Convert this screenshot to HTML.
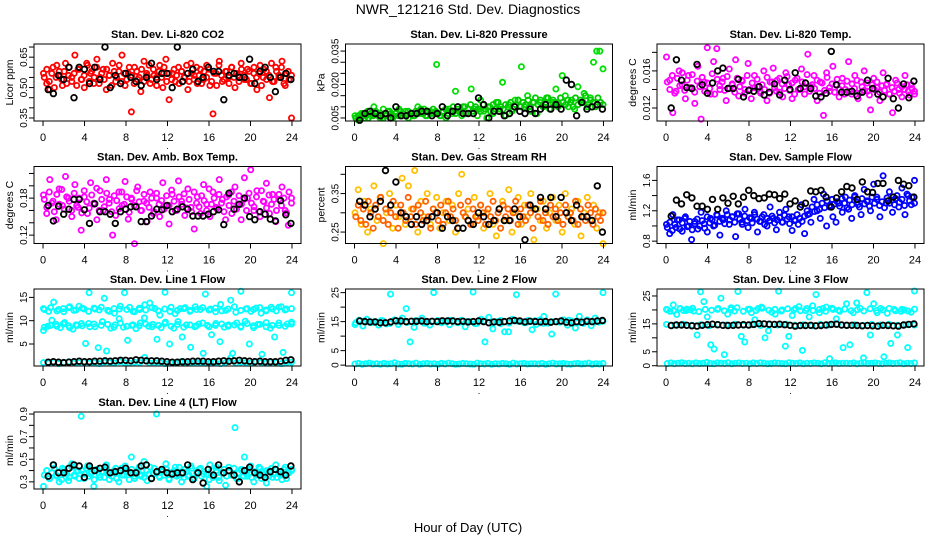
<!DOCTYPE html>
<html><head><meta charset="utf-8"><title>NWR_121216 Std. Dev. Diagnostics</title>
<style>
html,body{margin:0;padding:0;background:#fff;}
svg{display:block;font-family:"Liberation Sans",sans-serif;}
</style></head>
<body>
<svg id="chart" width="936" height="540" viewBox="0 0 936 540" xmlns="http://www.w3.org/2000/svg">
<rect x="0" y="0" width="936" height="540" fill="#fff"/>
<text x="468" y="14" text-anchor="middle" font-size="14">NWR_121216  Std. Dev. Diagnostics</text>
<text x="468" y="532" text-anchor="middle" font-size="13">Hour of Day (UTC)</text>
<g id="panels"></g>
</svg>
<script>
// x-axis tick labels (hours)
const xTicks=[0,4,8,12,16,20,24];
// Panel 1: CO2
const p1c=[0.57,0.52,0.49,0.60,0.55,0.58,0.51,0.62,0.56,0.53,0.66,0.59,0.54,0.50,0.61,0.57,0.52,0.64,0.55,0.59,0.49,0.56,0.62,0.53,0.58,0.66,0.51,0.57,0.38,0.60,0.54,0.48,0.63,0.56,0.52,0.59,0.55,0.61,0.50,0.64,0.44,0.57,0.53,0.60,0.58,0.55,0.49,0.62,0.56,0.52,0.59,0.54,0.61,0.51,0.37,0.57,0.63,0.53,0.58,0.55,0.60,0.50,0.56,0.62,0.54,0.59,0.52,0.57,0.49,0.61,0.55,0.58,0.45,0.53,0.60,0.56,0.63,0.51,0.58,0.35];
const p1d=[0.55,0.59,0.53,0.57,0.50,0.61,0.56,0.54,0.58,0.52,0.60,0.55,0.57,0.51,0.59,0.54,0.56,0.62,0.53,0.58,0.55,0.60,0.52,0.57,0.54,0.59,0.56,0.51,0.58,0.55,0.61,0.53,0.57,0.54,0.60,0.56,0.52,0.58,0.55,0.59,0.53,0.57,0.61,0.54,0.56,0.51,0.58,0.55,0.60,0.53,0.57,0.54,0.59,0.56,0.52,0.58,0.55,0.61,0.53,0.57,0.54,0.60,0.56,0.52,0.58,0.55,0.59,0.53,0.57,0.51,0.61,0.56,0.54,0.58,0.52,0.60,0.55,0.57,0.53,0.59,0.56,0.54,0.58,0.52,0.60,0.55,0.57,0.51,0.59,0.54,0.56,0.62,0.53,0.58,0.55,0.60,0.52,0.57,0.54,0.56];
const p1k=[0.49,0.47,0.56,0.54,0.60,0.45,0.60,0.59,0.52,0.60,0.54,0.70,0.50,0.56,0.52,0.57,0.55,0.53,0.51,0.55,0.62,0.54,0.57,0.57,0.50,0.70,0.53,0.57,0.59,0.53,0.55,0.60,0.58,0.58,0.44,0.56,0.57,0.55,0.55,0.64,0.52,0.58,0.60,0.55,0.48,0.55,0.57,0.54];
const p1Ticks=[0.35,0.40,0.45,0.50,0.55,0.60,0.65,0.70];
const p1Labels=[0.35,0.50,0.65];
// Panel 2: Pressure
const p2c=[0.006,0.004,0.007,0.005,0.008,0.006,0.010,0.007,0.005,0.009,0.006,0.008,0.005,0.007,0.009,0.006,0.008,0.005,0.007,0.006,0.010,0.007,0.009,0.006,0.008,0.007,0.029,0.006,0.008,0.005,0.009,0.007,0.017,0.008,0.006,0.010,0.007,0.018,0.009,0.006,0.013,0.008,0.005,0.010,0.007,0.012,0.009,0.021,0.006,0.011,0.008,0.013,0.013,0.028,0.010,0.015,0.008,0.012,0.007,0.012,0.010,0.014,0.009,0.012,0.018,0.011,0.024,0.015,0.010,0.013,0.009,0.019,0.012,0.016,0.010,0.014,0.030,0.035,0.035,0.027];
const p2d=[0.005,0.006,0.005,0.007,0.006,0.005,0.007,0.006,0.008,0.006,0.007,0.005,0.006,0.008,0.007,0.006,0.007,0.006,0.008,0.007,0.006,0.008,0.007,0.006,0.008,0.007,0.009,0.007,0.006,0.008,0.007,0.009,0.008,0.007,0.006,0.008,0.009,0.007,0.008,0.010,0.007,0.009,0.008,0.010,0.007,0.009,0.011,0.008,0.010,0.009,0.008,0.011,0.009,0.010,0.008,0.011,0.009,0.012,0.010,0.009,0.011,0.010,0.012,0.009,0.011,0.013,0.010,0.012,0.011,0.013,0.010,0.012,0.014,0.011,0.013,0.010,0.012,0.014,0.011,0.013,0.012,0.010,0.014,0.012,0.011,0.013,0.012,0.010,0.014,0.011,0.013,0.012,0.015,0.011,0.013,0.012,0.010,0.014,0.012,0.011];
const p2k=[0.004,0.007,0.008,0.007,0.006,0.007,0.005,0.010,0.006,0.006,0.007,0.007,0.008,0.008,0.006,0.007,0.010,0.006,0.008,0.010,0.007,0.007,0.007,0.014,0.011,0.005,0.008,0.008,0.006,0.007,0.010,0.008,0.007,0.009,0.007,0.009,0.011,0.009,0.011,0.009,0.022,0.020,0.006,0.012,0.009,0.010,0.011,0.009];
const p2Ticks=[0.005,0.010,0.015,0.020,0.025,0.030,0.035];
const p2Labels=[0.005,0.020,0.035];
// Panel 3: Li-820 Temp
const p3c=[0.0175,0.0150,0.0115,0.0138,0.0160,0.0145,0.0130,0.0155,0.0142,0.0125,0.0165,0.0108,0.0148,0.0185,0.0135,0.0170,0.0184,0.0140,0.0152,0.0128,0.0162,0.0145,0.0172,0.0133,0.0150,0.0140,0.0168,0.0130,0.0155,0.0143,0.0136,0.0160,0.0128,0.0148,0.0163,0.0138,0.0152,0.0132,0.0158,0.0145,0.0130,0.0150,0.0140,0.0162,0.0135,0.0178,0.0143,0.0155,0.0128,0.0148,0.0112,0.0158,0.0138,0.0165,0.0145,0.0132,0.0152,0.0140,0.0170,0.0135,0.0155,0.0130,0.0148,0.0160,0.0138,0.0118,0.0152,0.0142,0.0128,0.0158,0.0145,0.0135,0.0115,0.0150,0.0140,0.0132,0.0155,0.0138,0.0145,0.0135];
const p3d=[0.0148,0.0140,0.0155,0.0136,0.0152,0.0144,0.0158,0.0139,0.0150,0.0142,0.0156,0.0137,0.0149,0.0143,0.0153,0.0138,0.0147,0.0141,0.0157,0.0135,0.0151,0.0144,0.0148,0.0139,0.0154,0.0141,0.0146,0.0137,0.0152,0.0143,0.0149,0.0136,0.0155,0.0140,0.0147,0.0142,0.0151,0.0138,0.0145,0.0140,0.0153,0.0136,0.0148,0.0142,0.0150,0.0137,0.0146,0.0141,0.0154,0.0139,0.0147,0.0135,0.0152,0.0140,0.0148,0.0143,0.0156,0.0138,0.0145,0.0141,0.0150,0.0136,0.0147,0.0139,0.0153,0.0142,0.0146,0.0137,0.0151,0.0140,0.0144,0.0135,0.0149,0.0138,0.0146,0.0141,0.0150,0.0136,0.0143,0.0139,0.0147,0.0134,0.0145,0.0140,0.0148,0.0137,0.0144,0.0139,0.0146,0.0135,0.0142,0.0138,0.0147,0.0136,0.0143,0.0140,0.0145,0.0134,0.0141,0.0138];
const p3k=[0.0120,0.0172,0.0150,0.0142,0.0141,0.0167,0.0145,0.0136,0.0147,0.0160,0.0163,0.0141,0.0141,0.0151,0.0132,0.0139,0.0138,0.0143,0.0134,0.0137,0.0146,0.0134,0.0150,0.0140,0.0158,0.0141,0.0147,0.0141,0.0133,0.0132,0.0136,0.0181,0.0145,0.0137,0.0137,0.0138,0.0133,0.0137,0.0150,0.0141,0.0135,0.0132,0.0152,0.0130,0.0120,0.0146,0.0131,0.0149];
const p3Ticks=[0.012,0.014,0.016,0.018];
const p3Labels=[0.012,0.016];
// Panel 4: Amb. Box Temp
const p4c=[0.185,0.155,0.210,0.175,0.145,0.195,0.168,0.215,0.180,0.150,0.202,0.165,0.128,0.182,0.155,0.205,0.172,0.145,0.192,0.160,0.210,0.178,0.120,0.152,0.190,0.168,0.207,0.146,0.180,0.106,0.198,0.160,0.175,0.142,0.190,0.155,0.180,0.150,0.205,0.168,0.138,0.186,0.160,0.208,0.175,0.152,0.195,0.165,0.130,0.182,0.155,0.202,0.170,0.150,0.190,0.165,0.210,0.178,0.145,0.185,0.155,0.198,0.170,0.145,0.213,0.180,0.226,0.160,0.192,0.150,0.175,0.204,0.155,0.186,0.142,0.178,0.198,0.160,0.136,0.180];
const p4d=[0.178,0.165,0.190,0.172,0.158,0.186,0.170,0.194,0.162,0.182,0.175,0.160,0.188,0.168,0.180,0.156,0.192,0.174,0.164,0.185,0.170,0.196,0.160,0.178,0.166,0.188,0.172,0.158,0.184,0.176,0.163,0.190,0.170,0.182,0.157,0.178,0.168,0.192,0.174,0.160,0.186,0.172,0.165,0.180,0.158,0.188,0.170,0.176,0.162,0.184,0.168,0.193,0.175,0.160,0.182,0.170,0.187,0.164,0.178,0.158,0.190,0.172,0.166,0.184,0.176,0.160,0.195,0.170,0.180,0.163,0.186,0.172,0.158,0.182,0.168,0.190,0.175,0.162,0.184,0.170,0.178,0.160,0.188,0.172,0.166,0.182,0.158,0.192,0.174,0.164,0.185,0.170,0.178,0.160,0.186,0.168,0.180,0.156,0.190,0.172];
const p4k=[0.168,0.143,0.167,0.154,0.162,0.178,0.178,0.161,0.139,0.171,0.158,0.158,0.154,0.139,0.158,0.162,0.166,0.166,0.142,0.142,0.151,0.162,0.161,0.168,0.158,0.162,0.166,0.162,0.151,0.151,0.151,0.154,0.158,0.161,0.137,0.188,0.162,0.170,0.180,0.150,0.145,0.158,0.154,0.146,0.143,0.176,0.153,0.139];
const p4Ticks=[0.12,0.14,0.16,0.18,0.20,0.22];
const p4Labels=[0.12,0.18];
// Panel 5: Gas Stream RH
const p5c=[0.30,0.36,0.27,0.33,0.25,0.31,0.37,0.28,0.34,0.22,0.30,0.35,0.26,0.32,0.29,0.39,0.27,0.37,0.31,0.41,0.25,0.33,0.29,0.35,0.27,0.31,0.34,0.26,0.30,0.33,0.28,0.32,0.25,0.35,0.40,0.29,0.31,0.27,0.34,0.29,0.32,0.26,0.30,0.35,0.27,0.24,0.31,0.33,0.28,0.36,0.25,0.30,0.34,0.27,0.32,0.29,0.35,0.23,0.31,0.28,0.33,0.26,0.30,0.34,0.28,0.32,0.25,0.35,0.29,0.31,0.27,0.33,0.24,0.30,0.34,0.28,0.32,0.26,0.30,0.22];
const p5d=[0.29,0.32,0.28,0.31,0.27,0.33,0.30,0.26,0.32,0.29,0.34,0.28,0.31,0.27,0.30,0.33,0.29,0.26,0.32,0.30,0.28,0.34,0.29,0.31,0.27,0.32,0.30,0.28,0.33,0.29,0.26,0.31,0.30,0.28,0.32,0.27,0.30,0.33,0.29,0.31,0.28,0.26,0.32,0.30,0.29,0.33,0.27,0.31,0.29,0.28,0.32,0.30,0.27,0.31,0.29,0.33,0.28,0.30,0.26,0.32,0.29,0.31,0.28,0.30,0.33,0.27,0.31,0.29,0.28,0.32,0.30,0.26,0.31,0.29,0.33,0.28,0.30,0.27,0.32,0.29,0.31,0.28,0.30,0.27,0.32,0.29,0.30,0.28,0.33,0.27,0.31,0.29,0.28,0.32,0.30,0.27,0.31,0.29,0.28,0.30];
const p5k=[0.33,0.32,0.29,0.31,0.33,0.41,0.32,0.38,0.30,0.29,0.27,0.29,0.27,0.28,0.29,0.30,0.26,0.29,0.28,0.26,0.26,0.28,0.27,0.30,0.29,0.27,0.28,0.31,0.28,0.28,0.31,0.29,0.23,0.32,0.31,0.34,0.31,0.34,0.29,0.34,0.30,0.28,0.32,0.29,0.29,0.28,0.37,0.25];
const p5Ticks=[0.25,0.30,0.35,0.40];
const p5Labels=[0.25,0.35];
// Panel 6: Sample Flow
const p6c=[1.02,0.90,1.15,0.98,1.08,0.93,1.12,1.00,0.82,1.06,0.96,1.18,1.03,0.92,1.10,1.00,1.15,0.88,1.08,1.20,1.02,1.12,0.86,1.16,1.05,1.22,0.98,1.10,1.18,0.92,1.06,1.15,1.00,1.25,1.10,0.95,1.18,1.05,1.22,1.12,0.94,1.08,1.02,1.28,0.90,1.15,1.05,1.35,1.20,1.10,1.42,1.00,1.25,1.12,1.05,1.30,1.18,1.38,1.22,1.10,1.40,1.28,1.15,1.48,1.32,1.20,1.55,1.38,1.12,1.66,1.30,1.45,1.18,1.36,1.25,1.50,1.15,1.40,1.28,1.60];
const p6d=[0.98,1.05,0.94,1.02,1.08,0.96,1.04,1.10,0.99,1.06,0.95,1.03,1.09,1.00,1.07,0.97,1.12,1.04,1.08,1.01,1.14,1.06,1.10,1.03,1.15,1.08,1.12,1.05,1.16,1.09,1.02,1.13,1.07,1.11,1.04,1.15,1.09,1.06,1.12,1.02,1.10,1.07,1.13,1.04,1.08,1.11,1.05,1.14,1.09,1.03,1.12,1.07,1.15,1.10,1.06,1.13,1.20,1.16,1.25,1.19,1.28,1.22,1.30,1.24,1.33,1.27,1.35,1.29,1.32,1.26,1.36,1.30,1.24,1.34,1.28,1.38,1.31,1.25,1.36,1.29,1.33,1.26,1.38,1.30,1.35,1.27,1.32,1.24,1.37,1.30,1.34,1.28,1.40,1.31,1.35,1.27,1.42,1.33,1.38,1.30];
const p6k=[1.13,1.34,1.29,1.41,1.37,1.26,1.26,1.22,1.35,1.22,1.37,1.30,1.39,1.29,1.38,1.47,1.40,1.36,1.37,1.42,1.41,1.36,1.42,1.29,1.33,1.25,1.30,1.46,1.45,1.47,1.38,1.25,1.37,1.45,1.52,1.50,1.35,1.58,1.45,1.44,1.56,1.56,1.33,1.38,1.60,1.55,1.53,1.38];
const p6Ticks=[0.8,1.0,1.2,1.4,1.6];
const p6Labels=[0.8,1.2,1.6];
// Panel 7: Line 1 Flow
const p7a=[12.6,12.0,14.0,12.4,11.9,12.8,12.2,13.1,12.5,16.0,12.7,12.3,14.8,12.0,11.6,12.5,16.0,12.9,11.9,12.4,13.4,13.8,12.6,11.2,16.1,12.0,11.5,12.6,12.8,12.2,13.0,12.4,15.7,12.5,11.9,13.5,12.2,14.4,11.8,16.3,12.5,12.0,12.7,11.6,12.3,12.9,12.1,13.0,12.5,16.0];
const p7a2=[12.4,12.8,12.1,12.6,13.0,12.3,12.7,12.0,12.5,12.9,12.2,12.6,13.1,12.4,12.0,12.7,12.3,12.8,12.1,12.5,12.9,12.2,12.6,12.0,12.4,12.8,12.3,12.7,12.1,12.5,13.0,12.2,12.6,12.4,12.8,12.1,12.5,12.9,12.3,12.6];
const p7b=[7.9,8.8,10.1,9.2,8.5,9.6,8.9,8.2,9.0,9.4,5.1,8.7,9.3,4.2,9.8,3.5,8.4,9.1,10.4,8.6,5.8,9.0,8.3,9.5,10.6,8.8,9.2,6.0,8.5,9.7,5.0,8.4,9.8,6.5,9.1,4.3,8.7,9.3,3.0,9.0,7.0,9.4,5.5,8.6,9.1,3.0,9.5,8.8,9.9,5.0,8.5,9.2,2.8,9.6,8.4,6.5,9.0,3.2,9.3,9.7];
const p7b2=[8.6,9.0,8.8,9.3,8.5,9.1,8.9,9.4,8.7,9.0,9.2,8.6,9.5,8.8,9.1,8.9,9.3,8.7,9.0,9.4,8.8,9.2,8.6,9.1,8.9,9.5,8.7,9.0,9.3,8.8,9.1,8.6,9.4,8.9,9.2,8.7,9.0,9.5,8.8,9.3];
const p7z=[1.0,0.9,1.1,0.8,1.0,1.2,0.9,1.0,1.1,0.9,1.0,0.8,1.1,1.0,0.9,1.2,1.0,0.9,1.1,1.0,2.1,0.9,1.0,1.1,0.8,1.0,0.9,1.2,1.0,0.9,1.1,1.0,0.9,1.0,1.1,0.8,1.0,2.0,0.9,1.1,1.0,0.9,1.2,1.0,0.9,1.1,1.0,0.8,1.0,1.1];
const p7k=[1.1,1.2,1.1,1.0,1.1,1.2,1.3,1.2,1.2,1.3,1.3,1.4,1.3,1.4,1.5,1.5,1.4,1.6,1.5,1.4,1.4,1.4,1.3,1.2,1.1,1.1,1.2,1.2,1.3,1.3,1.3,1.2,1.2,1.3,1.4,1.3,1.4,1.5,1.4,1.3,1.2,1.3,1.2,1.2,1.2,1.3,1.5,1.6];
const p7Ticks=[5,10,15];
const p7Labels=[5,10,15];
// Panel 8: Line 2 Flow
const p8a=[14.0,15.5,13.5,15.8,14.6,15.0,13.8,15.3,14.2,24.5,15.6,14.0,16.2,19.5,8.0,13.0,15.2,16.2,14.5,13.8,25.0,15.4,14.6,15.0,13.9,15.3,14.7,15.5,13.2,15.0,25.2,14.4,15.8,8.0,16.5,12.5,15.0,14.3,11.5,11.5,15.8,24.3,15.2,14.6,15.4,12.2,14.0,15.6,16.8,14.5,10.7,24.5,14.8,15.6,13.8,15.2,12.8,16.8,14.4,15.6,13.6,16.2,14.8,25.0];
const p8a2=[14.6,15.2,14.8,15.4,14.4,15.0,14.7,15.3,14.5,15.1,14.9,15.5,14.6,15.0,14.3,15.2,14.8,15.4,14.5,15.1,14.7,15.3,14.4,15.0,14.9,15.5,14.6,15.2,14.8,15.1];
const p8z=[0.4,0.6,0.3,0.5,0.7,0.4,0.5,0.3,0.6,0.4,0.5,0.8,0.4,0.3,0.6,0.5,0.4,0.7,0.3,0.5,0.6,0.4,0.5,0.3,0.6,0.4,0.7,0.5,0.3,0.4,0.6,0.5,0.4,0.3,0.7,0.5,0.4,0.6,0.3,0.5,0.4,0.6,0.5,0.3,0.7,0.4,0.5,0.6,0.4,0.5,0.5,0.4,0.6,0.3,0.5,0.7,0.4,0.5,0.6,0.4,0.3,0.5,0.6,0.4,0.5,0.7,0.3,0.5,0.4,0.6];
const p8k=[15.2,15.0,14.9,14.9,14.6,14.6,14.9,15.3,15.2,15.0,15.1,15.1,15.2,15.0,15.1,15.0,15.3,15.2,15.2,15.0,15.1,14.9,15.0,15.2,15.0,14.6,14.9,14.8,15.0,15.2,15.4,15.2,14.9,15.1,15.0,14.9,15.0,14.8,15.0,15.2,14.8,14.6,15.0,14.8,15.1,15.0,15.2,15.4];
const p8Ticks=[0,5,10,15,20,25];
const p8Labels=[0,5,15,25];
// Panel 9: Line 3 Flow
const p9a=[20.2,19.5,21.8,18.4,20.5,19.8,20.3,20.0,19.6,11.0,26.5,23.0,17.5,7.5,6.0,20.2,24.2,4.0,18.5,20.8,19.6,26.6,10.5,8.5,20.2,19.0,16.5,20.5,21.0,10.0,12.5,19.2,18.5,26.7,20.0,7.0,10.5,18.0,20.5,21.2,5.5,19.8,17.5,21.5,25.5,19.0,20.5,21.0,2.5,20.2,16.8,19.5,6.5,22.2,7.5,19.0,22.5,20.6,2.8,26.2,11.0,22.2,19.0,20.5,3.2,18.8,8.0,20.2,11.0,19.5,20.0,6.5,19.2,26.8];
const p9a2=[20.0,19.6,20.4,19.8,20.6,19.4,20.2,19.9,20.5,19.7,20.1,20.8,19.5,20.3,19.8,20.6,19.9,20.2,19.6,20.4,20.0,19.7,20.5,19.8,20.2,19.5,20.6,19.9,20.3,19.7,20.1,19.6,20.4,19.8,20.0,20.5,19.7,20.2,19.6,20.3];
const p9m=[14.8,14.6,14.9,14.5,14.7,14.3,14.8,14.6,14.9,14.5,14.7,14.4,14.8,14.6,14.9,14.5,14.7,14.3,14.8,14.6,14.9,14.5,14.7,14.4,14.8,14.6,14.9,14.5,14.7,14.6];
const p9z=[0.8,1.0,0.7,0.9,1.1,0.8,0.9,0.7,1.0,0.8,0.9,1.2,0.8,0.7,1.0,0.9,0.8,1.1,0.7,0.9,1.0,0.8,0.9,0.7,1.0,0.8,1.1,0.9,0.7,0.8,1.0,0.9,0.8,0.7,1.1,0.9,0.8,1.0,0.7,0.9,0.8,1.0,0.9,0.7,1.1,0.8,0.9,1.0,0.8,0.9,0.9,0.8,1.0,0.7,0.9,1.1,0.8,0.9,1.0,0.8,0.7,0.9,1.0,0.8,0.9,1.1,0.7,0.9,0.8,1.0];
const p9k=[14.4,14.6,14.6,14.5,14.3,14.2,14.5,14.7,14.9,14.7,14.5,14.4,14.5,14.6,14.7,14.6,14.8,15.1,15.0,14.9,14.8,14.9,14.7,14.5,14.2,14.4,14.4,14.5,14.3,14.4,14.6,14.8,14.9,14.6,14.5,14.5,14.4,14.3,14.4,14.3,14.2,14.5,14.4,14.3,14.2,14.6,14.8,15.0];
const p9Ticks=[0,5,10,15,20,25];
const p9Labels=[0,5,15,25];
// Panel 10: Line 4 (LT) Flow
const p10c=[0.26,0.40,0.33,0.45,0.36,0.30,0.42,0.38,0.31,0.46,0.35,0.40,0.88,0.33,0.44,0.37,0.26,0.41,0.34,0.39,0.45,0.32,0.38,0.42,0.30,0.36,0.44,0.39,0.52,0.33,0.40,0.35,0.48,0.31,0.43,0.37,0.90,0.34,0.40,0.46,0.32,0.38,0.43,0.36,0.30,0.41,0.35,0.44,0.33,0.39,0.42,0.37,0.26,0.45,0.34,0.40,0.31,0.38,0.27,0.43,0.36,0.78,0.33,0.41,0.52,0.35,0.44,0.30,0.38,0.42,0.36,0.29,0.40,0.34,0.45,0.37,0.32,0.43,0.39,0.41];
const p10d=[0.36,0.40,0.33,0.38,0.42,0.35,0.39,0.32,0.41,0.37,0.34,0.43,0.36,0.39,0.33,0.40,0.37,0.42,0.35,0.38,0.32,0.41,0.36,0.39,0.34,0.43,0.37,0.35,0.40,0.33,0.38,0.42,0.36,0.39,0.32,0.41,0.35,0.38,0.43,0.36,0.34,0.40,0.37,0.33,0.42,0.38,0.35,0.39,0.36,0.41,0.33,0.38,0.40,0.35,0.43,0.37,0.34,0.39,0.36,0.42,0.33,0.38,0.41,0.35,0.39,0.37,0.32,0.40,0.36,0.43,0.34,0.38,0.41,0.35,0.39,0.36,0.42,0.33,0.38,0.40,0.35,0.37,0.41,0.34,0.39,0.36,0.43,0.33,0.38,0.40,0.35,0.42,0.37,0.34,0.39,0.36,0.41,0.33,0.38,0.40];
const p10k=[0.35,0.45,0.38,0.38,0.42,0.45,0.44,0.34,0.44,0.40,0.42,0.43,0.38,0.39,0.40,0.42,0.38,0.38,0.44,0.45,0.33,0.39,0.41,0.38,0.37,0.38,0.38,0.45,0.32,0.38,0.29,0.41,0.36,0.45,0.38,0.40,0.36,0.30,0.40,0.43,0.38,0.36,0.34,0.39,0.41,0.39,0.36,0.44];
const p10Ticks=[0.3,0.4,0.5,0.6,0.7,0.8,0.9];
const p10Labels=[0.3,0.5,0.7,0.9];

const NS="http://www.w3.org/2000/svg";
const root=document.getElementById('panels');
const rowTop=[44,166.5,289,412];
const boxH=77, boxW=267;
const colLeft=[34,345.5,657];
const X0=-0.87, X1=24.87;

const panels=[
 {name:'co2',title:'Stan. Dev. Li-820 CO2',ylab:'Licor ppm',r:0,c:0,lo:0.335,hi:0.715,series:[[p1c,'#ff0000'],[p1d,'#ff0000']],black:p1k,ticks:p1Ticks,labels:p1Labels,dec:2},
 {name:'pressure',title:'Stan. Dev. Li-820 Pressure',ylab:'kPa',r:0,c:1,lo:0.00364,hi:0.03818,series:[[p2c,'#00e000'],[p2d,'#00c800']],black:p2k,ticks:p2Ticks,labels:p2Labels,dec:3},
 {name:'li820-temp',title:'Stan. Dev. Li-820 Temp.',ylab:'degrees C',r:0,c:2,lo:0.0106,hi:0.0189,series:[[p3c,'#ff00ff'],[p3d,'#ff00ff']],black:p3k,ticks:p3Ticks,labels:p3Labels,dec:3},
 {name:'amb-box-temp',title:'Stan. Dev. Amb. Box Temp.',ylab:'degrees C',r:1,c:0,lo:0.1064,hi:0.2313,series:[[p4c,'#ff00ff'],[p4d,'#ff00ff']],black:p4k,ticks:p4Ticks,labels:p4Labels,dec:2},
 {name:'gas-stream-rh',title:'Stan. Dev. Gas Stream RH',ylab:'percent',r:1,c:1,lo:0.2203,hi:0.4203,series:[[p5c,'#ffc000'],[p5d,'#ff6000']],black:p5k,ticks:p5Ticks,labels:p5Labels,dec:2},
 {name:'sample-flow',title:'Stan. Dev. Sample Flow',ylab:'ml/min',r:1,c:2,lo:0.769,hi:1.783,series:[[p6c,'#0000ff'],[p6d,'#0000ff']],black:p6k,ticks:p6Ticks,labels:p6Labels,dec:1},
 {name:'line1-flow',title:'Stan. Dev. Line 1 Flow',ylab:'ml/min',r:2,c:0,lo:0.28,hi:16.8,series:[[p7a,'#00ffff'],[p7a2,'#00ffff'],[p7b,'#00ffff'],[p7b2,'#00ffff'],[p7z,'#00ffff']],black:p7k,ticks:p7Ticks,labels:p7Labels,dec:0},
 {name:'line2-flow',title:'Stan. Dev. Line 2 Flow',ylab:'ml/min',r:2,c:1,lo:-0.3,hi:26.25,series:[[p8a,'#00ffff'],[p8a2,'#00ffff'],[p8z,'#00ffff']],black:p8k,ticks:p8Ticks,labels:p8Labels,dec:0},
 {name:'line3-flow',title:'Stan. Dev. Line 3 Flow',ylab:'ml/min',r:2,c:2,lo:-0.1,hi:27.5,series:[[p9a,'#00ffff'],[p9a2,'#00ffff'],[p9m,'#00ffff'],[p9z,'#00ffff']],black:p9k,ticks:p9Ticks,labels:p9Labels,dec:0},
 {name:'line4-flow',title:'Stan. Dev. Line 4 (LT) Flow',ylab:'ml/min',r:3,c:0,lo:0.237,hi:0.918,series:[[p10c,'#00ffff'],[p10d,'#00ffff']],black:p10k,ticks:p10Ticks,labels:p10Labels,dec:1}
];

function mk(tag,attrs,parent){const e=document.createElementNS(NS,tag);for(const k in attrs)e.setAttribute(k,attrs[k]);parent.appendChild(e);return e;}

panels.forEach(p=>{
  const L=colLeft[p.c], T=rowTop[p.r], B=T+boxH, R=L+boxW;
  const g=mk('g',{},root);
  
  
  const xs=v=>L+(v-X0)/(X1-X0)*boxW;
  const ys=v=>B-(v-p.lo)/(p.hi-p.lo)*boxH;
  const t=mk('text',{x:(L+R)/2,y:T-6,'text-anchor':'middle','font-size':'11','font-weight':'bold'},g);
  t.textContent=p.title;
  
  
  const yl=mk('text',{transform:`translate(${L-21},${(T+B)/2}) rotate(-90)`,'text-anchor':'middle','font-size':'10.5'},g);
  yl.textContent=p.ylab;
  
  
  const pg=mk('g',{fill:'none'},g);
  
  
  p.series.forEach(([arr,col],si)=>{
    const n=arr.length;
    const off=si%2?0.12:0.05;
    arr.forEach((v,i)=>{
      const h=off+i*(23.9-off+0.05)/(n-1);
      const c=mk('circle',{cx:xs(h).toFixed(1),cy:ys(v).toFixed(1),r:'2.6',stroke:col,'stroke-width':'1.8'},pg);
      
      
    });
  });
  const nb=p.black.length;
  p.black.forEach((v,i)=>{
    const h=0.5+i*23.4/(nb-1);
    const c=mk('circle',{cx:xs(h).toFixed(1),cy:ys(v).toFixed(1),r:'2.8',stroke:'#000','stroke-width':'1.8'},pg);
    
    
  });
  const bx=mk('rect',{x:L,y:T,width:boxW,height:boxH,fill:'none',stroke:'#000','stroke-width':'1'},g);
  
  
  p.ticks.forEach(v=>{
    const y=ys(v);
    const tk=mk('line',{x1:L-5,x2:L,y1:y,y2:y,stroke:'#000','stroke-width':'1'},g);
    
    
  });
  p.labels.forEach(v=>{
    const y=ys(v);
    const tl=mk('text',{transform:`translate(${L-7},${y}) rotate(-90)`,'text-anchor':'middle','font-size':'10'},g);
    tl.textContent=v.toFixed(p.dec);
    
    
  });
  xTicks.forEach(h=>{
    const x=xs(h);
    const tk=mk('line',{x1:x,x2:x,y1:B,y2:B+5,stroke:'#000','stroke-width':'1'},g);
    
    
    const tl=mk('text',{x:x,y:B+20,'text-anchor':'middle','font-size':'11'},g);
    tl.textContent=String(h);
    
    
  });
  const dot=mk('text',{x:(L+R)/2,y:B+28,'text-anchor':'middle','font-size':'9'},g);
  dot.textContent='.';
  
  
});
</script>
</body></html>
